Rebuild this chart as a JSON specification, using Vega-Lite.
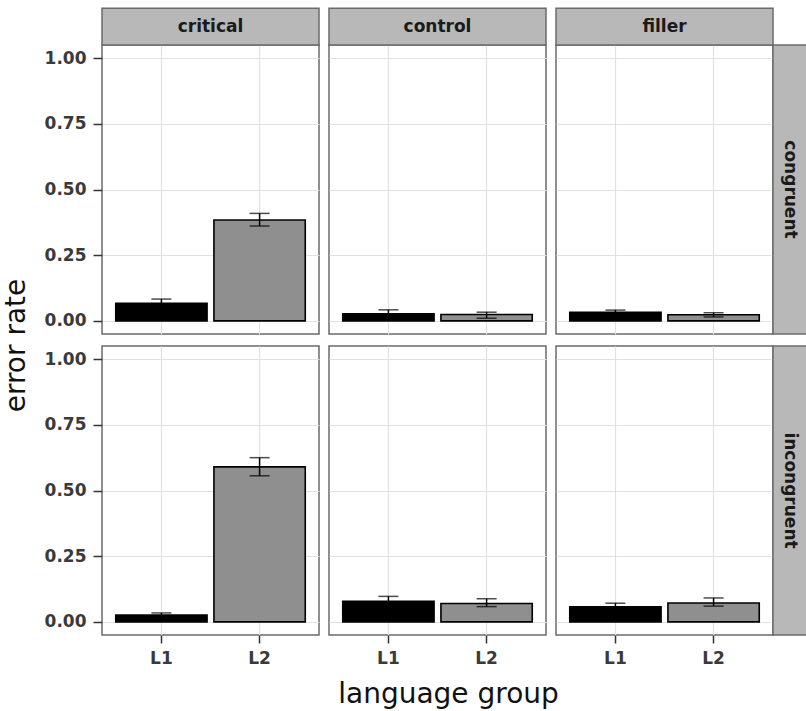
{
  "$schema": "https://vega.github.io/schema/vega-lite/v6.json",
  "background": "white",
  "padding": {"left": 1, "top": 6, "right": 0, "bottom": 0},
  "autosize": {"type": "pad"},
  "config": {
    "font": "DejaVu Sans",
    "view": {"stroke": "#6b6b6b", "strokeWidth": 1.5},
    "axis": {
      "labelFont": "DejaVu Sans", "labelFontSize": 17, "labelFontWeight": "bold", "labelColor": "#3a3a3a",
      "titleFont": "DejaVu Sans", "titleFontSize": 28, "titleFontWeight": "normal", "titleColor": "#111111",
      "gridWidth": 1.2
    }
  },
  "data": {"values": [
    {"cond": "critical", "cong": "congruent", "group": "L1", "rate": 0.067, "lo": 0.051, "hi": 0.083},
    {"cond": "critical", "cong": "congruent", "group": "L2", "rate": 0.384, "lo": 0.361, "hi": 0.409},
    {"cond": "control", "cong": "congruent", "group": "L1", "rate": 0.027, "lo": 0.012, "hi": 0.042},
    {"cond": "control", "cong": "congruent", "group": "L2", "rate": 0.024, "lo": 0.01, "hi": 0.033},
    {"cond": "filler", "cong": "congruent", "group": "L1", "rate": 0.033, "lo": 0.025, "hi": 0.041},
    {"cond": "filler", "cong": "congruent", "group": "L2", "rate": 0.023, "lo": 0.015, "hi": 0.031},
    {"cond": "critical", "cong": "incongruent", "group": "L1", "rate": 0.026, "lo": 0.019, "hi": 0.034},
    {"cond": "critical", "cong": "incongruent", "group": "L2", "rate": 0.59, "lo": 0.556, "hi": 0.625},
    {"cond": "control", "cong": "incongruent", "group": "L1", "rate": 0.078, "lo": 0.06, "hi": 0.097},
    {"cond": "control", "cong": "incongruent", "group": "L2", "rate": 0.07, "lo": 0.058, "hi": 0.088},
    {"cond": "filler", "cong": "incongruent", "group": "L1", "rate": 0.057, "lo": 0.045, "hi": 0.071},
    {"cond": "filler", "cong": "incongruent", "group": "L2", "rate": 0.072, "lo": 0.06, "hi": 0.091}
  ]},
  "columns": 3,
  "spacing": {"row": 12, "column": 10},
  "bounds": "flush",
  "align": "all",
  "resolve": {"scale": {"x": "independent", "y": "independent"}},
  "concat": [
    {
      "width": 217, "height": 289,
      "transform": [{"filter": "datum.cond == 'critical' && datum.cong == 'congruent'"}],
      "layer": [
        {"mark": {"type": "bar", "stroke": "#000000", "strokeWidth": 1.6},
         "encoding": {
           "x": {"field": "group", "type": "nominal", "scale": {"paddingInner": 0.07, "paddingOuter": 0.14},
                 "axis": {"grid": true, "bandPosition": 0.5, "domain": false, "labels": false, "ticks": false, "title": null, "gridColor": "#e2e2e2"}},
           "y": {"field": "rate", "type": "quantitative", "scale": {"domain": [-0.05, 1.05], "nice": false, "zero": false},
                 "axis": {"values": [0, 0.125, 0.25, 0.375, 0.5, 0.625, 0.75, 0.875, 1],
                          "labelExpr": "(datum.value*8) % 2 == 0 ? format(datum.value, '.2f') : ''",
                          "tickOpacity": {"condition": {"test": "(datum.value*8) % 2 != 0", "value": 0}, "value": 1},
                          "gridColor": {"condition": {"test": "(datum.value*8) % 2 != 0", "value": "#f1f1f1"}, "value": "#e2e2e2"},
                          "grid": true, "domain": false, "tickSize": 9, "tickWidth": 1.5, "tickColor": "#333333", "labelPadding": 7,
                          "title": "error rate", "titleY": 300, "titlePadding": 14}},
           "fill": {"field": "group", "type": "nominal", "scale": {"domain": ["L1", "L2"], "range": ["#000000", "#8f8f8f"]}, "legend": null}
         }},
        {"mark": {"type": "rule", "color": "#000000", "strokeWidth": 1.5},
         "encoding": {"x": {"field": "group", "type": "nominal"}, "y": {"field": "lo", "type": "quantitative"}, "y2": {"field": "hi"}}},
        {"mark": {"type": "tick", "color": "#000000", "thickness": 1.5, "size": 20},
         "encoding": {"x": {"field": "group", "type": "nominal"}, "y": {"field": "lo", "type": "quantitative"}}},
        {"mark": {"type": "tick", "color": "#000000", "thickness": 1.5, "size": 20},
         "encoding": {"x": {"field": "group", "type": "nominal"}, "y": {"field": "hi", "type": "quantitative"}}},
        {"transform": [{"filter": "datum.group == 'L1'"}],
         "mark": {"type": "rect", "fill": "#b8b8b8", "stroke": "#6b6b6b", "strokeWidth": 1.5},
         "encoding": {"y": {"datum": 1.05, "type": "quantitative"}, "y2": {"datum": 1.19}}},
        {"transform": [{"filter": "datum.group == 'L1'"}],
         "mark": {"type": "text", "font": "DejaVu Sans", "fontSize": 17, "fontWeight": "bold", "color": "#1a1a1a", "baseline": "middle", "align": "center"},
         "encoding": {"text": {"field": "cond"}, "y": {"datum": 1.12, "type": "quantitative"}}}
      ]
    },
    {
      "width": 217, "height": 289,
      "transform": [{"filter": "datum.cond == 'control' && datum.cong == 'congruent'"}],
      "layer": [
        {"mark": {"type": "bar", "stroke": "#000000", "strokeWidth": 1.6},
         "encoding": {
           "x": {"field": "group", "type": "nominal", "scale": {"paddingInner": 0.07, "paddingOuter": 0.14},
                 "axis": {"grid": true, "bandPosition": 0.5, "domain": false, "labels": false, "ticks": false, "title": null, "gridColor": "#e2e2e2"}},
           "y": {"field": "rate", "type": "quantitative", "scale": {"domain": [-0.05, 1.05], "nice": false, "zero": false},
                 "axis": {"values": [0, 0.125, 0.25, 0.375, 0.5, 0.625, 0.75, 0.875, 1],
                          "labels": false, "ticks": false, "domain": false, "grid": true, "title": null,
                          "gridColor": {"condition": {"test": "(datum.value*8) % 2 != 0", "value": "#f1f1f1"}, "value": "#e2e2e2"}}},
           "fill": {"field": "group", "type": "nominal", "scale": {"domain": ["L1", "L2"], "range": ["#000000", "#8f8f8f"]}, "legend": null}
         }},
        {"mark": {"type": "rule", "color": "#000000", "strokeWidth": 1.5},
         "encoding": {"x": {"field": "group", "type": "nominal"}, "y": {"field": "lo", "type": "quantitative"}, "y2": {"field": "hi"}}},
        {"mark": {"type": "tick", "color": "#000000", "thickness": 1.5, "size": 20},
         "encoding": {"x": {"field": "group", "type": "nominal"}, "y": {"field": "lo", "type": "quantitative"}}},
        {"mark": {"type": "tick", "color": "#000000", "thickness": 1.5, "size": 20},
         "encoding": {"x": {"field": "group", "type": "nominal"}, "y": {"field": "hi", "type": "quantitative"}}},
        {"transform": [{"filter": "datum.group == 'L1'"}],
         "mark": {"type": "rect", "fill": "#b8b8b8", "stroke": "#6b6b6b", "strokeWidth": 1.5},
         "encoding": {"y": {"datum": 1.05, "type": "quantitative"}, "y2": {"datum": 1.19}}},
        {"transform": [{"filter": "datum.group == 'L1'"}],
         "mark": {"type": "text", "font": "DejaVu Sans", "fontSize": 17, "fontWeight": "bold", "color": "#1a1a1a", "baseline": "middle", "align": "center"},
         "encoding": {"text": {"field": "cond"}, "y": {"datum": 1.12, "type": "quantitative"}}}
      ]
    },
    {
      "width": 217, "height": 289,
      "transform": [{"filter": "datum.cond == 'filler' && datum.cong == 'congruent'"}],
      "resolve": {"scale": {"x": "independent"}},
      "layer": [
        {"layer": [
          {"mark": {"type": "bar", "stroke": "#000000", "strokeWidth": 1.6},
           "encoding": {
             "x": {"field": "group", "type": "nominal", "scale": {"paddingInner": 0.07, "paddingOuter": 0.14},
                   "axis": {"grid": true, "bandPosition": 0.5, "domain": false, "labels": false, "ticks": false, "title": null, "gridColor": "#e2e2e2"}},
             "y": {"field": "rate", "type": "quantitative", "scale": {"domain": [-0.05, 1.05], "nice": false, "zero": false},
                   "axis": {"values": [0, 0.125, 0.25, 0.375, 0.5, 0.625, 0.75, 0.875, 1],
                            "labels": false, "ticks": false, "domain": false, "grid": true, "title": null,
                            "gridColor": {"condition": {"test": "(datum.value*8) % 2 != 0", "value": "#f1f1f1"}, "value": "#e2e2e2"}}},
             "fill": {"field": "group", "type": "nominal", "scale": {"domain": ["L1", "L2"], "range": ["#000000", "#8f8f8f"]}, "legend": null}
           }},
          {"mark": {"type": "rule", "color": "#000000", "strokeWidth": 1.5},
           "encoding": {"x": {"field": "group", "type": "nominal"}, "y": {"field": "lo", "type": "quantitative"}, "y2": {"field": "hi"}}},
          {"mark": {"type": "tick", "color": "#000000", "thickness": 1.5, "size": 20},
           "encoding": {"x": {"field": "group", "type": "nominal"}, "y": {"field": "lo", "type": "quantitative"}}},
          {"mark": {"type": "tick", "color": "#000000", "thickness": 1.5, "size": 20},
           "encoding": {"x": {"field": "group", "type": "nominal"}, "y": {"field": "hi", "type": "quantitative"}}}
        ]},
        {"transform": [{"filter": "datum.group == 'L1'"}],
         "mark": {"type": "rect", "fill": "#b8b8b8", "stroke": "#6b6b6b", "strokeWidth": 1.5},
         "encoding": {"y": {"datum": 1.05, "type": "quantitative"}, "y2": {"datum": 1.19}}},
        {"transform": [{"filter": "datum.group == 'L1'"}],
         "mark": {"type": "text", "font": "DejaVu Sans", "fontSize": 17, "fontWeight": "bold", "color": "#1a1a1a", "baseline": "middle", "align": "center"},
         "encoding": {"text": {"field": "cond"}, "y": {"datum": 1.12, "type": "quantitative"}}},
        {"transform": [{"filter": "datum.group == 'L1'"}],
         "layer": [
           {"mark": {"type": "rect", "fill": "#b8b8b8", "stroke": "#6b6b6b", "strokeWidth": 1.5},
            "encoding": {"x": {"datum": 1, "type": "quantitative", "scale": {"domain": [0, 1], "nice": false, "zero": false}, "axis": null}, "x2": {"datum": 1.16}}},
           {"mark": {"type": "text", "font": "DejaVu Sans", "fontSize": 17, "fontWeight": "bold", "color": "#1a1a1a", "baseline": "middle", "align": "center", "angle": 90},
            "encoding": {"text": {"field": "cong"}, "x": {"datum": 1.078, "type": "quantitative", "axis": null}}}
         ]}
      ]
    },
    {
      "width": 217, "height": 289,
      "transform": [{"filter": "datum.cond == 'critical' && datum.cong == 'incongruent'"}],
      "layer": [
        {"mark": {"type": "bar", "stroke": "#000000", "strokeWidth": 1.6},
         "encoding": {
           "x": {"field": "group", "type": "nominal", "scale": {"paddingInner": 0.07, "paddingOuter": 0.14},
                 "axis": {"grid": true, "bandPosition": 0.5, "domain": false, "labelAngle": 0, "tickSize": 8, "tickWidth": 1.5, "tickColor": "#333333", "labelPadding": 7, "title": null, "gridColor": "#e2e2e2"}},
           "y": {"field": "rate", "type": "quantitative", "scale": {"domain": [-0.05, 1.05], "nice": false, "zero": false},
                 "axis": {"values": [0, 0.125, 0.25, 0.375, 0.5, 0.625, 0.75, 0.875, 1],
                          "labelExpr": "(datum.value*8) % 2 == 0 ? format(datum.value, '.2f') : ''",
                          "tickOpacity": {"condition": {"test": "(datum.value*8) % 2 != 0", "value": 0}, "value": 1},
                          "gridColor": {"condition": {"test": "(datum.value*8) % 2 != 0", "value": "#f1f1f1"}, "value": "#e2e2e2"},
                          "grid": true, "domain": false, "tickSize": 9, "tickWidth": 1.5, "tickColor": "#333333", "labelPadding": 7,
                          "title": null}},
           "fill": {"field": "group", "type": "nominal", "scale": {"domain": ["L1", "L2"], "range": ["#000000", "#8f8f8f"]}, "legend": null}
         }},
        {"mark": {"type": "rule", "color": "#000000", "strokeWidth": 1.5},
         "encoding": {"x": {"field": "group", "type": "nominal"}, "y": {"field": "lo", "type": "quantitative"}, "y2": {"field": "hi"}}},
        {"mark": {"type": "tick", "color": "#000000", "thickness": 1.5, "size": 20},
         "encoding": {"x": {"field": "group", "type": "nominal"}, "y": {"field": "lo", "type": "quantitative"}}},
        {"mark": {"type": "tick", "color": "#000000", "thickness": 1.5, "size": 20},
         "encoding": {"x": {"field": "group", "type": "nominal"}, "y": {"field": "hi", "type": "quantitative"}}}
      ]
    },
    {
      "width": 217, "height": 289,
      "transform": [{"filter": "datum.cond == 'control' && datum.cong == 'incongruent'"}],
      "layer": [
        {"mark": {"type": "bar", "stroke": "#000000", "strokeWidth": 1.6},
         "encoding": {
           "x": {"field": "group", "type": "nominal", "scale": {"paddingInner": 0.07, "paddingOuter": 0.14},
                 "axis": {"grid": true, "bandPosition": 0.5, "domain": false, "labelAngle": 0, "tickSize": 8, "tickWidth": 1.5, "tickColor": "#333333", "labelPadding": 7,
                          "title": "language group", "titleX": 119, "titlePadding": 14, "gridColor": "#e2e2e2"}},
           "y": {"field": "rate", "type": "quantitative", "scale": {"domain": [-0.05, 1.05], "nice": false, "zero": false},
                 "axis": {"values": [0, 0.125, 0.25, 0.375, 0.5, 0.625, 0.75, 0.875, 1],
                          "labels": false, "ticks": false, "domain": false, "grid": true, "title": null,
                          "gridColor": {"condition": {"test": "(datum.value*8) % 2 != 0", "value": "#f1f1f1"}, "value": "#e2e2e2"}}},
           "fill": {"field": "group", "type": "nominal", "scale": {"domain": ["L1", "L2"], "range": ["#000000", "#8f8f8f"]}, "legend": null}
         }},
        {"mark": {"type": "rule", "color": "#000000", "strokeWidth": 1.5},
         "encoding": {"x": {"field": "group", "type": "nominal"}, "y": {"field": "lo", "type": "quantitative"}, "y2": {"field": "hi"}}},
        {"mark": {"type": "tick", "color": "#000000", "thickness": 1.5, "size": 20},
         "encoding": {"x": {"field": "group", "type": "nominal"}, "y": {"field": "lo", "type": "quantitative"}}},
        {"mark": {"type": "tick", "color": "#000000", "thickness": 1.5, "size": 20},
         "encoding": {"x": {"field": "group", "type": "nominal"}, "y": {"field": "hi", "type": "quantitative"}}}
      ]
    },
    {
      "width": 217, "height": 289,
      "transform": [{"filter": "datum.cond == 'filler' && datum.cong == 'incongruent'"}],
      "resolve": {"scale": {"x": "independent"}},
      "layer": [
        {"layer": [
          {"mark": {"type": "bar", "stroke": "#000000", "strokeWidth": 1.6},
           "encoding": {
             "x": {"field": "group", "type": "nominal", "scale": {"paddingInner": 0.07, "paddingOuter": 0.14},
                   "axis": {"grid": true, "bandPosition": 0.5, "domain": false, "labelAngle": 0, "tickSize": 8, "tickWidth": 1.5, "tickColor": "#333333", "labelPadding": 7, "title": null, "gridColor": "#e2e2e2"}},
             "y": {"field": "rate", "type": "quantitative", "scale": {"domain": [-0.05, 1.05], "nice": false, "zero": false},
                   "axis": {"values": [0, 0.125, 0.25, 0.375, 0.5, 0.625, 0.75, 0.875, 1],
                            "labels": false, "ticks": false, "domain": false, "grid": true, "title": null,
                            "gridColor": {"condition": {"test": "(datum.value*8) % 2 != 0", "value": "#f1f1f1"}, "value": "#e2e2e2"}}},
             "fill": {"field": "group", "type": "nominal", "scale": {"domain": ["L1", "L2"], "range": ["#000000", "#8f8f8f"]}, "legend": null}
           }},
          {"mark": {"type": "rule", "color": "#000000", "strokeWidth": 1.5},
           "encoding": {"x": {"field": "group", "type": "nominal"}, "y": {"field": "lo", "type": "quantitative"}, "y2": {"field": "hi"}}},
          {"mark": {"type": "tick", "color": "#000000", "thickness": 1.5, "size": 20},
           "encoding": {"x": {"field": "group", "type": "nominal"}, "y": {"field": "lo", "type": "quantitative"}}},
          {"mark": {"type": "tick", "color": "#000000", "thickness": 1.5, "size": 20},
           "encoding": {"x": {"field": "group", "type": "nominal"}, "y": {"field": "hi", "type": "quantitative"}}}
        ]},
        {"transform": [{"filter": "datum.group == 'L1'"}],
         "layer": [
           {"mark": {"type": "rect", "fill": "#b8b8b8", "stroke": "#6b6b6b", "strokeWidth": 1.5},
            "encoding": {"x": {"datum": 1, "type": "quantitative", "scale": {"domain": [0, 1], "nice": false, "zero": false}, "axis": null}, "x2": {"datum": 1.16}}},
           {"mark": {"type": "text", "font": "DejaVu Sans", "fontSize": 17, "fontWeight": "bold", "color": "#1a1a1a", "baseline": "middle", "align": "center", "angle": 90},
            "encoding": {"text": {"field": "cong"}, "x": {"datum": 1.078, "type": "quantitative", "axis": null}}}
         ]}
      ]
    }
  ]
}
